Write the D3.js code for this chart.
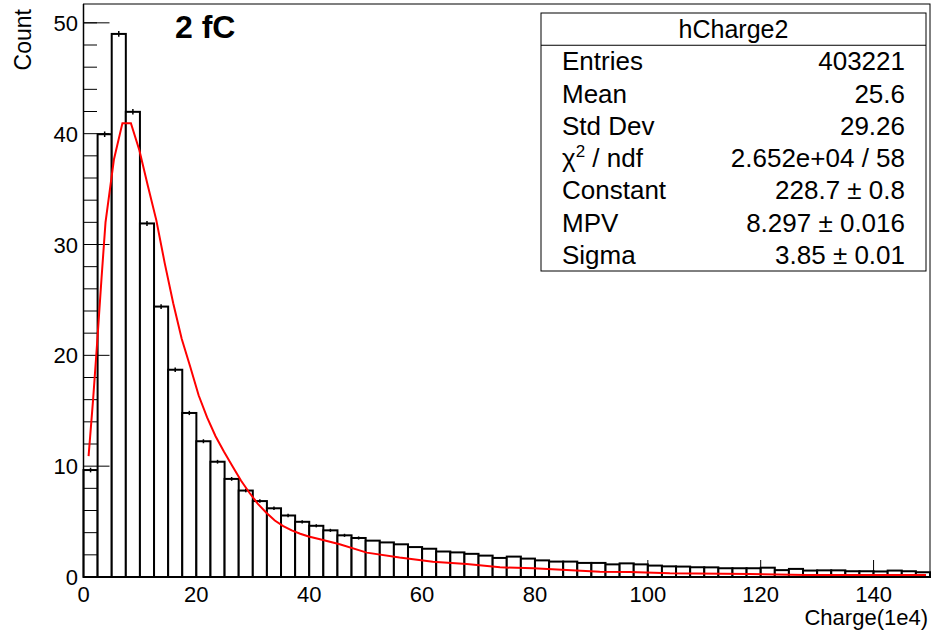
<!DOCTYPE html>
<html>
<head>
<meta charset="utf-8">
<script src="https://cdn.jsdelivr.net/npm/d3@7"></script>
<style>
  body { margin: 0; background: #fff; }
  text { font-family: "Liberation Sans", Arial, Helvetica, sans-serif; fill: #000; }
</style>
</head>
<body>
<div id="chart"></div>
<script>
// histogram hCharge2, 60 bins of 2.5 from 0 to 150
var binWidth = 2.5;
var counts = [
  9.65, 39.95, 49.0, 41.97, 31.9, 24.4, 18.7, 14.8, 12.25, 10.4,
  8.85, 7.8, 6.85, 6.2, 5.55, 4.98, 4.62, 4.21, 3.76, 3.52,
  3.28, 3.12, 2.95, 2.7, 2.55, 2.3, 2.22, 2.09, 1.93, 1.72,
  1.84, 1.66, 1.5, 1.39, 1.39, 1.27, 1.27, 1.14, 1.23, 1.14,
  1.03, 0.96, 0.94, 0.88, 0.87, 0.79, 0.79, 0.79, 0.84, 0.62,
  0.73, 0.58, 0.6, 0.6, 0.52, 0.52, 0.5, 0.58, 0.52, 0.43
];
// small error bars, only the first bins are visible
var errors = [
  0.12, 0.16, 0.17, 0.16, 0.14, 0.12, 0.11, 0.1, 0.09, 0.08,
  0.08, 0.07, 0.07, 0.06, 0.06, 0.06, 0.05, 0.05, 0.05, 0.05
];

// landau fit as drawn (red)
var fitX = [0.9, 1.7, 2.4, 3.2, 3.9, 5.4, 6.9, 8.4, 9.9, 11.4, 12.9, 14.4, 15.9, 17.4,
  18.9, 20.4, 21.9, 23.4, 24.9, 26.4, 27.9, 29.4, 30.9, 32.4, 33.9, 35.4, 36.9, 38.4,
  39.9, 41.9, 45.4, 50.2, 56, 61.9, 67.9, 73.8, 79.7, 85.6, 91.5, 96.8, 103.9, 118, 128, 149.3];
var fitY = [10.9, 16.0, 21.0, 27.0, 32.0, 37.7, 40.95, 40.95, 38.5, 35.3, 32.2, 28.3, 24.7, 21.5,
  19.0, 16.4, 14.4, 12.7, 11.3, 10.0, 8.7, 7.6, 6.6, 5.8, 5.1, 4.6, 4.2, 3.9,
  3.65, 3.4, 2.95, 2.2, 1.75, 1.38, 1.17, 0.87, 0.78, 0.63, 0.48, 0.45, 0.33, 0.27, 0.18, 0.18];

var xTicks = [0, 20, 40, 60, 80, 100, 120, 140];
var yTicks = [0, 10, 20, 30, 40, 50];
var yMinor = [2, 4, 6, 8, 12, 14, 16, 18, 22, 24, 26, 28, 32, 34, 36, 38, 42, 44, 46, 48, 50];

var statNames = ["Entries", "Mean", "Std Dev", "chi2", "Constant", "MPV", "Sigma"];
var statValues = ["403221", "25.6", "29.26", "2.652e+04 / 58", "228.7 \u00b1 0.8", "8.297 \u00b1 0.016", "3.85 \u00b1 0.01"];

var W = 933, H = 633;
var frame = { left: 83.5, right: 930, top: 4, bottom: 577 };

var svg = d3.select("#chart").append("svg")
  .attr("width", W)
  .attr("height", H);

var x = d3.scaleLinear().domain([0, 150]).range([frame.left, frame.right]);
var y = d3.scaleLinear().domain([0, 51.7]).range([frame.bottom, frame.top]);

// frame
svg.append("rect")
  .attr("x", frame.left).attr("y", frame.top)
  .attr("width", frame.right - frame.left)
  .attr("height", frame.bottom - frame.top)
  .style("fill", "none").style("stroke", "#000").style("stroke-width", 1);

// bars
var bins = counts.map(function (c, i) { return { x0: i * binWidth, x1: (i + 1) * binWidth, v: c, e: errors[i] || 0 }; });
svg.selectAll(".bin")
  .data(bins)
  .enter().append("rect")
    .attr("class", "bin")
    .attr("x", function (d) { return x(d.x0); })
    .attr("y", function (d) { return y(d.v); })
    .attr("width", function (d) { return x(d.x1) - x(d.x0); })
    .attr("height", function (d) { return y(0) - y(d.v); })
    .style("fill", "#fff")
    .style("stroke", "#000")
    .style("stroke-width", 2);

// error bars
svg.selectAll(".err")
  .data(bins.filter(function (d) { return d.e > 0; }))
  .enter().append("line")
    .attr("x1", function (d) { return x((d.x0 + d.x1) / 2); })
    .attr("x2", function (d) { return x((d.x0 + d.x1) / 2); })
    .attr("y1", function (d) { return y(d.v - d.e) + 1; })
    .attr("y2", function (d) { return y(d.v + d.e) - 1; })
    .style("stroke", "#000").style("stroke-width", 1.5);

// axis ticks (drawn inside the frame, like ROOT)
svg.selectAll(".ymaj").data(yTicks).enter().append("line")
  .attr("x1", frame.left).attr("x2", frame.left + 26)
  .attr("y1", function (d) { return y(d); }).attr("y2", function (d) { return y(d); })
  .style("stroke", "#000").style("stroke-width", 1);
svg.selectAll(".ymin").data(yMinor).enter().append("line")
  .attr("x1", frame.left).attr("x2", frame.left + 13.5)
  .attr("y1", function (d) { return y(d); }).attr("y2", function (d) { return y(d); })
  .style("stroke", "#000").style("stroke-width", 1);
svg.selectAll(".xmaj").data(xTicks).enter().append("line")
  .attr("x1", function (d) { return x(d); }).attr("x2", function (d) { return x(d); })
  .attr("y1", frame.bottom).attr("y2", frame.bottom - 17)
  .style("stroke", "#000").style("stroke-width", 1);

// axis lines
svg.append("line").attr("x1", frame.left).attr("x2", frame.right)
  .attr("y1", frame.bottom).attr("y2", frame.bottom)
  .style("stroke", "#000").style("stroke-width", 2);
svg.append("line").attr("x1", frame.left).attr("x2", frame.left)
  .attr("y1", frame.top).attr("y2", frame.bottom)
  .style("stroke", "#000").style("stroke-width", 1.5);

// fit curve
var line = d3.line()
  .x(function (d) { return x(d[0]); })
  .y(function (d) { return y(d[1]); });
svg.append("path")
  .datum(fitX.map(function (v, i) { return [v, fitY[i]]; }))
  .attr("d", line)
  .style("fill", "none").style("stroke", "#ff0000").style("stroke-width", 2);

// tick labels
svg.selectAll(".ylab").data(yTicks).enter().append("text")
  .attr("x", 78).attr("y", function (d) { return y(d) + 8; })
  .style("text-anchor", "end").style("font-size", "22px")
  .text(function (d) { return d; });
svg.selectAll(".xlab").data(xTicks).enter().append("text")
  .attr("x", function (d) { return x(d); }).attr("y", 602)
  .style("text-anchor", "middle").style("font-size", "22px")
  .text(function (d) { return d; });

// axis titles
svg.append("text")
  .attr("x", 928).attr("y", 625)
  .style("text-anchor", "end").style("font-size", "22px")
  .text("Charge(1e4)");
svg.append("text")
  .attr("transform", "translate(31,9) rotate(-90)")
  .style("text-anchor", "end").style("font-size", "23px")
  .text("Count");

// label
svg.append("text")
  .attr("x", 175).attr("y", 38)
  .style("font-size", "32px").style("font-weight", "bold")
  .text("2 fC");

// stats box
var box = { x: 541, y: 13, w: 385, h: 258 };
svg.append("rect")
  .attr("x", box.x).attr("y", box.y).attr("width", box.w).attr("height", box.h)
  .style("fill", "#fff").style("stroke", "#000").style("stroke-width", 1);
var rowH = box.h / 8;
svg.append("line")
  .attr("x1", box.x).attr("x2", box.x + box.w)
  .attr("y1", box.y + rowH).attr("y2", box.y + rowH)
  .style("stroke", "#000").style("stroke-width", 1);
svg.append("text")
  .attr("x", box.x + box.w / 2).attr("y", box.y + rowH / 2 + 9)
  .style("text-anchor", "middle").style("font-size", "25px")
  .text("hCharge2");

var rows = svg.selectAll(".stat").data(statNames).enter().append("g");
rows.append("text")
  .attr("x", 562)
  .attr("y", function (d, i) { return box.y + rowH * (i + 1.5) + 9; })
  .style("font-size", "26px")
  .each(function (d) {
    var t = d3.select(this);
    if (d === "chi2") {
      t.append("tspan").text("\u03c7");
      t.append("tspan").attr("dy", -10).style("font-size", "17px").text("2");
      t.append("tspan").attr("dy", 10).text(" / ndf");
    } else {
      t.text(d);
    }
  });
rows.append("text")
  .attr("x", 905)
  .attr("y", function (d, i) { return box.y + rowH * (i + 1.5) + 9; })
  .style("text-anchor", "end").style("font-size", "26px")
  .text(function (d, i) { return statValues[i]; });
</script>
</body>
</html>
